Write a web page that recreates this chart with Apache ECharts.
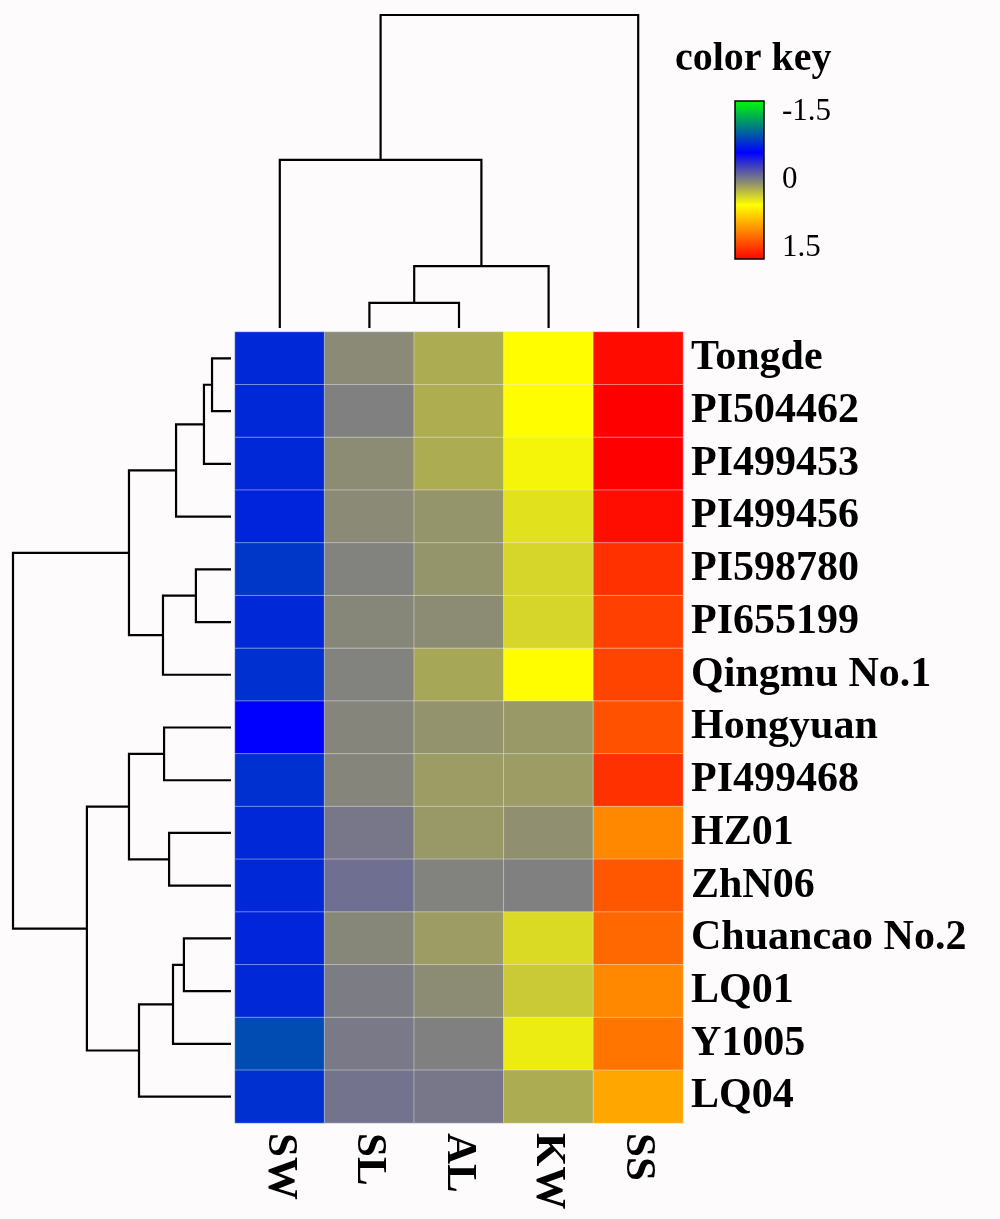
<!DOCTYPE html>
<html>
<head>
<meta charset="utf-8">
<script src="https://cdn.jsdelivr.net/npm/echarts@6/dist/echarts.min.js"></script>
<style>
  html, body { margin: 0; padding: 0; background: #fdfbfc; }
  #main { width: 1000px; height: 1219px; }
</style>
</head>
<body>
<div id="main"></div>
<script>
const traits = ['SW', 'SL', 'AL', 'KW', 'SS'];
const accessions = ['Tongde', 'PI504462', 'PI499453', 'PI499456', 'PI598780', 'PI655199',
  'Qingmu No.1', 'Hongyuan', 'PI499468', 'HZ01', 'ZhN06', 'Chuancao No.2', 'LQ01', 'Y1005', 'LQ04'];

// scaled values per trait, in accession order
const SW = [-0.78, -0.78, -0.78, -0.76, -0.85, -0.78, -0.82, -0.60, -0.82, -0.78, -0.78, -0.77, -0.78, -0.94, -0.82];
const SL = [0.04, 0.00, 0.05, 0.04, 0.01, 0.03, 0.01, 0.02, 0.02, -0.04, -0.08, 0.03, -0.02, -0.03, -0.06];
const AL = [0.19, 0.20, 0.19, 0.09, 0.09, 0.05, 0.17, 0.08, 0.12, 0.11, 0.01, 0.12, 0.05, 0.00, -0.04];
const KW = [0.56, 0.56, 0.51, 0.42, 0.37, 0.37, 0.56, 0.11, 0.12, 0.07, 0.00, 0.39, 0.32, 0.47, 0.19];
const SS = [1.70, 1.75, 1.75, 1.69, 1.52, 1.45, 1.43, 1.37, 1.52, 1.11, 1.34, 1.26, 1.11, 1.20, 0.97];

// linkage: [childA, childB, height]; leaves first, merged nodes numbered after them
const colLinkage = [[1, 2, 0.80], [5, 3, 1.98], [0, 6, 5.37], [7, 4, 10]];
const rowLinkage = [
  [0, 1, 0.87], [15, 2, 1.24], [16, 3, 2.52], [4, 5, 1.61], [18, 6, 3.12], [17, 19, 4.68],
  [7, 8, 3.07], [9, 10, 2.84], [21, 22, 4.68], [11, 12, 2.16], [24, 13, 2.66], [25, 14, 4.22],
  [23, 26, 6.61], [20, 27, 10]
];

// colour key
const keyStops = [[-1.75, '#00ff00'], [-0.6, '#0000ff'], [0, '#808080'], [0.55, '#ffff00'], [1.75, '#ff0000']];
const keyTicks = [-1.5, -1, -0.5, 0, 0.5, 1, 1.5];
const keyLabels = [-1.5, 0, 1.5];
const keyMin = -1.75, keyMax = 1.75;

const serif = "'Liberation Serif', 'Times New Roman', serif";

function hex(c) { return [1, 3, 5].map(i => parseInt(c.substr(i, 2), 16)); }
function colorAt(v) {
  for (let i = 1; i < keyStops.length; i++) {
    const [v0, c0] = keyStops[i - 1], [v1, c1] = keyStops[i];
    if (v <= v1 || i === keyStops.length - 1) {
      const t = Math.max(0, Math.min(1, (v - v0) / (v1 - v0)));
      const a = hex(c0), b = hex(c1);
      return 'rgb(' + a.map((x, k) => Math.round(x + (b[k] - x) * t)).join(',') + ')';
    }
  }
}
const mapColors = [];
for (let v = keyMin; v <= keyMax + 1e-9; v += 0.05) mapColors.push(colorAt(v));

const byTrait = [SW, SL, AL, KW, SS];
const heatData = [];
byTrait.forEach((vals, c) => vals.forEach((v, r) => heatData.push([c, r, v])));

function linkSegments(linkage, nLeaves) {
  const pos = [], hgt = [];
  for (let i = 0; i < nLeaves; i++) { pos.push(i + 0.5); hgt.push(0); }
  return linkage.map(([a, b, h]) => {
    const seg = [pos[a], hgt[a], pos[b], hgt[b], h];
    pos.push((pos[a] + pos[b]) / 2);
    hgt.push(h);
    return seg;
  });
}

const lineStyle = { stroke: '#000', lineWidth: 2.2, fill: null };

// top dendrogram: x = leaf position, y = height
const colRender = function (params, api) {
  const pts = [
    api.coord([api.value(0), api.value(1)]),
    api.coord([api.value(0), api.value(4)]),
    api.coord([api.value(2), api.value(4)]),
    api.coord([api.value(2), api.value(3)])
  ];
  return { type: 'polyline', shape: { points: pts }, style: lineStyle };
};
// left dendrogram: x = height, y = leaf position
const rowRender = function (params, api) {
  const pts = [
    api.coord([api.value(1), api.value(0)]),
    api.coord([api.value(4), api.value(0)]),
    api.coord([api.value(4), api.value(2)]),
    api.coord([api.value(3), api.value(2)])
  ];
  return { type: 'polyline', shape: { points: pts }, style: lineStyle };
};
const keyRender = function (params, api) {
  const p0 = api.coord([0, api.value(0)]);
  const p1 = api.coord([1, api.value(1)]);
  const stops = keyStops.map(([v, c]) => ({ offset: (v - keyMin) / (keyMax - keyMin), color: c }));
  return {
    type: 'rect',
    shape: { x: p0[0], y: p0[1], width: p1[0] - p0[0], height: p1[1] - p0[1] },
    style: { fill: new echarts.graphic.LinearGradient(0, 0, 0, 1, stops), stroke: '#000', lineWidth: 1.5 }
  };
};

const chart = echarts.init(document.getElementById('main'));
const option = {
  backgroundColor: '#fdfbfc',
  animation: false,
  title: {
    text: 'color key', left: 670, top: 35,
    textStyle: { fontFamily: serif, fontSize: 40, fontWeight: 'bold', color: '#000' }
  },
  grid: [
    { left: 235, top: 332, width: 448, height: 791 },
    { left: 235, top: 15, width: 448, height: 313 },
    { left: 13, top: 332, width: 218, height: 791 },
    { left: 735, top: 101, width: 29, height: 158 }
  ],
  xAxis: [
    {
      type: 'category', gridIndex: 0, data: traits, position: 'bottom',
      axisLine: { show: false }, axisTick: { show: false }, splitLine: { show: false },
      axisLabel: { interval: 0, rotate: -90, margin: 10, fontFamily: serif, fontSize: 43, fontWeight: 'bold', color: '#000' }
    },
    { type: 'value', gridIndex: 1, min: 0, max: traits.length, show: false },
    { type: 'value', gridIndex: 2, min: 0, max: 10, inverse: true, show: false },
    { type: 'value', gridIndex: 3, min: 0, max: 1, show: false }
  ],
  yAxis: [
    {
      type: 'category', gridIndex: 0, data: accessions, inverse: true, position: 'right',
      axisLine: { show: false }, axisTick: { show: false }, splitLine: { show: false },
      axisLabel: { interval: 0, margin: 8, fontFamily: serif, fontSize: 42, fontWeight: 'bold', color: '#000' }
    },
    { type: 'value', gridIndex: 1, min: 0, max: 10, show: false },
    { type: 'value', gridIndex: 2, min: 0, max: accessions.length, inverse: true, show: false },
    {
      type: 'value', gridIndex: 3, min: keyMin, max: keyMax, inverse: true, position: 'right',
      axisLine: { show: false }, splitLine: { show: false },
      axisTick: { show: true, inside: false, length: 7, customValues: keyTicks, lineStyle: { color: '#000', width: 1.5 } },
      axisLabel: { customValues: keyLabels, margin: 18, fontFamily: serif, fontSize: 31, color: '#000' }
    }
  ],
  visualMap: {
    type: 'continuous', show: false, min: keyMin, max: keyMax, seriesIndex: 0,
    inRange: { color: mapColors }
  },
  series: [
    {
      type: 'heatmap', xAxisIndex: 0, yAxisIndex: 0, data: heatData,
      itemStyle: { borderColor: 'rgba(235,235,235,0.45)', borderWidth: 1 },
      emphasis: { disabled: true }
    },
    {
      type: 'custom', xAxisIndex: 1, yAxisIndex: 1, clip: false,
      data: linkSegments(colLinkage, traits.length), renderItem: colRender, silent: true
    },
    {
      type: 'custom', xAxisIndex: 2, yAxisIndex: 2, clip: false,
      data: linkSegments(rowLinkage, accessions.length), renderItem: rowRender, silent: true
    },
    {
      type: 'custom', xAxisIndex: 3, yAxisIndex: 3, clip: false,
      data: [[keyMin, keyMax]], renderItem: keyRender, silent: true
    }
  ]
};
chart.setOption(option);
</script>
</body>
</html>
